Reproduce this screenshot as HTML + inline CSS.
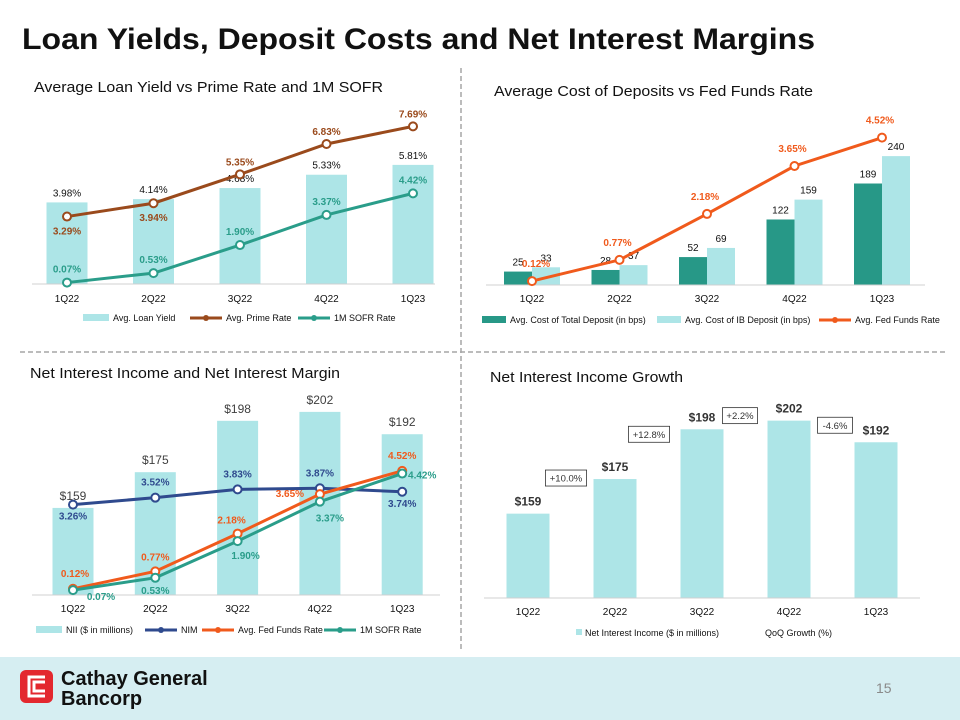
<!DOCTYPE html>
<html><head><meta charset="utf-8"><style>
html,body{margin:0;padding:0;background:#fff;}
svg{display:block;font-family:"Liberation Sans",Arial,sans-serif;}
</style></head><body>
<svg id="s" width="960" height="720" viewBox="0 0 960 720" xmlns="http://www.w3.org/2000/svg">
<text x="22" y="49" font-size="30" font-weight="bold" fill="#111" textLength="793" lengthAdjust="spacingAndGlyphs">Loan Yields, Deposit Costs and Net Interest Margins</text>
<line x1="461" y1="68" x2="461" y2="650" stroke="#a6a6a6" stroke-width="1.5" stroke-dasharray="5,3"/>
<line x1="20" y1="352" x2="945" y2="352" stroke="#a6a6a6" stroke-width="1.5" stroke-dasharray="5,3"/>
<text x="34" y="92" font-size="14.5" fill="#111" textLength="349" lengthAdjust="spacingAndGlyphs">Average Loan Yield vs Prime Rate and 1M SOFR</text>
<text x="494" y="96" font-size="14.5" fill="#111" textLength="319" lengthAdjust="spacingAndGlyphs">Average Cost of Deposits vs Fed Funds Rate</text>
<text x="30" y="378" font-size="14.5" fill="#111" textLength="310" lengthAdjust="spacingAndGlyphs">Net Interest Income and Net Interest Margin</text>
<text x="490" y="382" font-size="14.5" fill="#111" textLength="193" lengthAdjust="spacingAndGlyphs">Net Interest Income Growth</text>
<rect x="0" y="657" width="960" height="63" fill="#d6eef2"/>
<rect x="20" y="670" width="33" height="33" rx="6" fill="#e3282f"/>
<path d="M45 677 H29 V696 H45 M45 682 H34 V691 H45" fill="none" stroke="#fff" stroke-width="3"/>
<text x="61" y="685" font-size="20" font-weight="bold" fill="#111">Cathay General</text>
<text x="61" y="705" font-size="20" font-weight="bold" fill="#111">Bancorp</text>
<text x="876" y="693" font-size="14" fill="#8a8a8a">15</text>
</svg>
<script>
const cats = ["1Q22","2Q22","3Q22","4Q22","1Q23"];
// Chart 1
const loanYield = [3.98,4.14,4.68,5.33,5.81];
const primeRate = [3.29,3.94,5.35,6.83,7.69];
const sofr = [0.07,0.53,1.90,3.37,4.42];
// Chart 2
const costTotal = [25,28,52,122,189];
const costIB = [33,37,69,159,240];
const fedFunds = [0.12,0.77,2.18,3.65,4.52];
// Chart 3
const nii = [159,175,198,202,192];
const nim = [3.26,3.52,3.83,3.87,3.74];
// Chart 4
const growth = ["+10.0%","+12.8%","+2.2%","-4.6%"];

const S = document.getElementById('s');
const NS = "http://www.w3.org/2000/svg";
function mk(tag, attrs, name, txt){
  const e = document.createElementNS(NS, tag);
  for (const k in attrs) e.setAttribute(k, attrs[k]);
  
  
  if (txt !== undefined) e.textContent = txt;
  S.appendChild(e);
  return e;
}
function txt(x,y,s,opts,name){
  const a = Object.assign({x:x,y:y,'font-size':11,'text-anchor':'middle',fill:'#111'},opts||{});
  return mk('text',a,name,s);
}
function axis(x1,x2,y,name){ mk('line',{x1:x1,x2:x2,y1:y,y2:y,stroke:'#d0d0d0','stroke-width':1},name); }
function catLabels(xs,y,name){ cats.forEach((c,i)=>txt(xs(i),y,c,{'font-size':10},name+'-'+c)); }
function line(vals, xs, ys, color, name){
  const pts = vals.map((v,i)=>xs(i)+','+ys(v)).join(' ');
  mk('polyline',{points:pts,fill:'none',stroke:color,'stroke-width':3},name);
  vals.forEach((v,i)=>mk('circle',{cx:xs(i),cy:ys(v),r:4,fill:'#fff',stroke:color,'stroke-width':2},name+'-point'));
}
function legendBox(x,y,color,label,name,w){
  mk('rect',{x:x,y:y-4,width:w||30,height:7,fill:color},name+'-swatch');
  txt(x+(w||30)+4,y+3,label,{'font-size':9,'text-anchor':'start'},name+'-label');
}
function legendLine(x,y,color,label,name){
  mk('line',{x1:x,x2:x+32,y1:y,y2:y,stroke:color,'stroke-width':3},name+'-swatch');
  mk('circle',{cx:x+16,cy:y,r:3,fill:color},name+'-marker');
  txt(x+36,y+3,label,{'font-size':9,'text-anchor':'start'},name+'-label');
}
const LB='#ade5e7', BROWN='#9a4a1c', TEAL='#2a9d8a', DTEAL='#279887', ORANGE='#f05a1c', NAVY='#2f4a8e';

// ---- Chart 1
(function(){
  const base=284, k=20.5, x0=67, dx=86.5;
  const xs=i=>x0+i*dx, ys=v=>base-v*k;
  loanYield.forEach((v,i)=>{
    mk('rect',{x:xs(i)-20.5,y:ys(v),width:41,height:v*k,fill:LB},'loan-yield-bar-'+cats[i]);
    txt(xs(i),ys(v)-6,v.toFixed(2)+'%',{'font-size':10},'loan-yield-label');
  });
  axis(32,435,base,'loan-x-axis');
  line(primeRate,xs,ys,BROWN,'prime-rate-line');
  line(sofr,xs,ys,TEAL,'sofr-line');
  primeRate.forEach((v,i)=>txt(xs(i),i<2?ys(v)+18:ys(v)-9,v.toFixed(2)+'%',{'font-size':10,'font-weight':'bold',fill:BROWN},'prime-rate-label'));
  sofr.forEach((v,i)=>txt(xs(i),ys(v)-10,v.toFixed(2)+'%',{'font-size':10,'font-weight':'bold',fill:TEAL},'sofr-label'));
  catLabels(xs,302,'loan-x-tick');
  legendBox(83,318,LB,'Avg. Loan Yield','legend-loan-yield',26);
  legendLine(190,318,BROWN,'Avg. Prime Rate','legend-prime-rate');
  legendLine(298,318,TEAL,'1M SOFR Rate','legend-sofr');
})();

// ---- Chart 2
(function(){
  const base=285, kb=0.537, kl=32.6, x0=532, dx=87.5;
  const xs=i=>x0+i*dx, yb=v=>base-v*kb, yl=v=>base-v*kl;
  costTotal.forEach((v,i)=>{
    mk('rect',{x:xs(i)-28,y:yb(v),width:28,height:v*kb,fill:DTEAL},'total-deposit-bar-'+cats[i]);
    txt(xs(i)-14,yb(v)-6,String(v),{'font-size':10},'total-deposit-label');
  });
  costIB.forEach((v,i)=>{
    mk('rect',{x:xs(i),y:yb(v),width:28,height:v*kb,fill:LB},'ib-deposit-bar-'+cats[i]);
    txt(xs(i)+14,yb(v)-6,String(v),{'font-size':10},'ib-deposit-label');
  });
  axis(486,925,base,'deposit-x-axis');
  line(fedFunds,xs,yl,ORANGE,'fed-funds-line');
  fedFunds.forEach((v,i)=>txt(xs(i)-(i==0?-4:2),yl(v)-14,v.toFixed(2)+'%',{'font-size':10,'font-weight':'bold',fill:ORANGE},'fed-funds-label'));
  catLabels(xs,302,'deposit-x-tick');
  legendBox(482,320,DTEAL,'Avg. Cost of Total Deposit (in bps)','legend-total-deposit',24);
  legendBox(657,320,LB,'Avg. Cost of IB Deposit (in bps)','legend-ib-deposit',24);
  legendLine(819,320,ORANGE,'Avg. Fed Funds Rate','legend-fed-funds');
})();

// ---- Chart 3
(function(){
  const base=595, kb=2.233, mb=120, zr=592, kr=26.8, x0=73, dx=82.3;
  const xs=i=>x0+i*dx, yb=v=>base-(v-mb)*kb, yr=v=>zr-v*kr;
  nii.forEach((v,i)=>{
    mk('rect',{x:xs(i)-20.5,y:yb(v),width:41,height:(v-mb)*kb,fill:LB},'nii-bar-'+cats[i]);
    txt(xs(i),yb(v)-8,'$'+v,{'font-size':12,fill:'#404040'},'nii-label');
  });
  axis(32,440,base,'nii-x-axis');
  line(nim,xs,yr,NAVY,'nim-line');
  line(fedFunds,xs,yr,ORANGE,'fed-funds-line-2');
  line(sofr,xs,yr,TEAL,'sofr-line-2');
  const nimDy=[15,-12,-12,-12,15];
  nim.forEach((v,i)=>txt(xs(i),yr(v)+nimDy[i],v.toFixed(2)+'%',{'font-size':10,'font-weight':'bold',fill:NAVY},'nim-label'));
  const fDx=[2,0,-6,-30,0], fDy=[-12,-11,-10,3,-12];
  fedFunds.forEach((v,i)=>txt(xs(i)+fDx[i],yr(v)+fDy[i],v.toFixed(2)+'%',{'font-size':10,'font-weight':'bold',fill:ORANGE},'fed-funds-label-2'));
  const sDx=[28,0,8,10,20], sDy=[10,16,18,20,5];
  sofr.forEach((v,i)=>txt(xs(i)+sDx[i],yr(v)+sDy[i],v.toFixed(2)+'%',{'font-size':10,'font-weight':'bold',fill:TEAL},'sofr-label-2'));
  catLabels(xs,612,'nii-x-tick');
  legendBox(36,630,LB,'NII ($ in millions)','legend-nii',26);
  legendLine(145,630,NAVY,'NIM','legend-nim');
  legendLine(202,630,ORANGE,'Avg. Fed Funds Rate','legend-fed-funds-2');
  legendLine(324,630,TEAL,'1M SOFR Rate','legend-sofr-2');
})();

// ---- Chart 4
(function(){
  const base=598, kb=2.163, mb=120, x0=528, dx=87;
  const xs=i=>x0+i*dx, yb=v=>base-(v-mb)*kb;
  nii.forEach((v,i)=>{
    mk('rect',{x:xs(i)-21.5,y:yb(v),width:43,height:(v-mb)*kb,fill:LB},'nii-growth-bar-'+cats[i]);
    txt(xs(i),yb(v)-8,'$'+v,{'font-size':12,'font-weight':'bold',fill:'#333'},'nii-growth-label');
  });
  axis(484,920,base,'growth-x-axis');
  const boxDx=[49,53,49,41], boxDy=[-1,5,-5,-17];
  growth.forEach((g,i)=>{
    const cx=xs(i+1)-boxDx[i], cy=yb(nii[i+1])+boxDy[i];
    const w=g.length*6.2+4;
    mk('rect',{x:cx-w/2,y:cy-8,width:w,height:16,fill:'#fff',stroke:'#333','stroke-width':0.8},'growth-box');
    txt(cx,cy+3.5,g,{'font-size':9.5,fill:'#333'},'growth-label');
  });
  catLabels(xs,615,'growth-x-tick');
  mk('rect',{x:576,y:629,width:6,height:6,fill:LB},'legend-nii-growth-swatch');
  txt(585,636,'Net Interest Income ($ in millions)',{'font-size':9,'text-anchor':'start'},'legend-nii-growth-label');
  txt(765,636,'QoQ Growth (%)',{'font-size':9,'text-anchor':'start'},'legend-qoq-growth-label');
})();
</script>
</body></html>
